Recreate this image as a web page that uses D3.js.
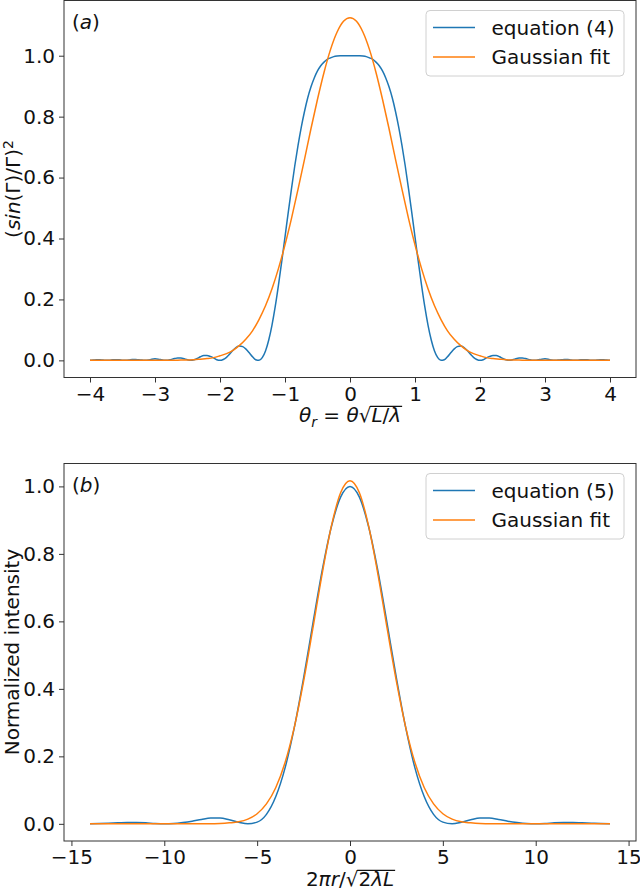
<!DOCTYPE html>
<html><head><meta charset="utf-8">
<script src="https://cdn.jsdelivr.net/npm/d3@7"></script>
<style>body{margin:0;background:#fff}svg{display:block}text{font-family:"DejaVu Sans",sans-serif}</style>
</head><body><svg id="c" width="640" height="894"></svg>
<script>
// ---------- Panel (a) data ----------
const thetaStart = -4, thetaStepEq = 0.05, thetaStepFit = 0.1;
const eq4Values = [
0.000,0.001,0.002,0.002,0.001,0.000,0.000,0.002,0.002,0.002,0.000,0.000,0.001,0.003,0.003,0.002,0.001,0.000,0.001,0.004,
0.005,0.004,0.002,0.000,0.000,0.003,0.006,0.008,0.008,0.005,0.002,0.000,0.002,0.006,0.012,0.016,0.016,0.013,0.008,0.002,
0.000,0.003,0.010,0.021,0.033,0.043,0.047,0.045,0.037,0.025,0.012,0.002,0.000,0.009,0.031,0.067,0.116,0.177,0.248,0.325,
0.405,0.486,0.564,0.638,0.705,0.765,0.817,0.862,0.898,0.927,0.950,0.967,0.979,0.988,0.993,0.997,0.999,1.000,1.000,1.000,
1.000,
1.000,1.000,1.000,0.999,0.997,0.993,0.988,0.979,0.967,0.950,0.927,0.898,0.862,0.817,0.765,0.705,0.638,0.564,0.486,
0.405,0.325,0.248,0.177,0.116,0.067,0.031,0.009,0.000,0.002,0.012,0.025,0.037,0.045,0.047,0.043,0.033,0.021,0.010,0.003,
0.000,0.002,0.008,0.013,0.016,0.016,0.012,0.006,0.002,0.000,0.002,0.005,0.008,0.008,0.006,0.003,0.000,0.000,0.002,0.004,
0.005,0.004,0.001,0.000,0.001,0.002,0.003,0.003,0.001,0.000,0.000,0.002,0.002,0.002,0.000,0.000,0.001,0.002,0.002,0.001,
0.000];
const fitAValues = [
0,0,0,0,0,0,0,0,0,0,0,0,0,0,0.001,0.001,0.002,0.004,0.006,0.009,
0.015,0.022,0.033,0.049,0.070,0.097,0.134,0.179,0.235,0.302,0.379,0.466,0.561,0.660,0.761,0.857,0.945,1.020,1.077,1.113,
1.125,
1.113,1.077,1.020,0.945,0.857,0.761,0.660,0.561,0.466,0.379,0.302,0.235,0.179,0.134,0.097,0.070,0.049,0.033,0.022,0.015,
0.009,0.006,0.004,0.002,0.001,0.001,0,0,0,0,0,0,0,0,0,0,0,0,0,0];
const xTicksA = [-4,-3,-2,-1,0,1,2,3,4];
const yTicks = [0,0.2,0.4,0.6,0.8,1.0];

// ---------- Panel (b) data ----------
const rStart = -14, rStep = 0.5;
const eq5Values = [
0.000,0.001,0.002,0.003,0.004,0.004,0.003,0.001,0.000,0.001,0.004,0.008,0.013,0.017,0.017,0.012,0.005,0.000,0.005,0.028,
0.080,0.165,0.285,0.432,0.593,0.750,0.881,0.969,
1.000,
0.969,0.881,0.750,0.593,0.432,0.285,0.165,0.080,0.028,0.005,0.000,0.005,0.012,0.017,0.017,0.013,0.008,0.004,0.001,0.000,
0.001,0.003,0.004,0.004,0.003,0.002,0.001,0.000];
const fitBValues = [
0,0,0,0,0,0,0,0,0,0,0,0,0,0,0.001,0.003,0.006,0.014,0.030,0.059,0.107,0.181,0.286,0.422,0.579,0.741,0.883,0.982,
1.017,
0.982,0.883,0.741,0.579,0.422,0.286,0.181,0.107,0.059,0.030,0.014,0.006,0.003,0.001,0,0,0,0,0,0,0,0,0,0,0,0,0,0];
const xTicksB = [-15,-10,-5,0,5,10,15];

const BLUE = "#1f77b4", ORANGE = "#ff7f0e";
const svg = d3.select("#c");
svg.append("rect").attr("width",640).attr("height",894).attr("fill","#fff");

function grid(start, step, n){ return d3.range(n).map(i => +(start + i*step).toFixed(4)); }

function panel(o){
  const x = d3.scaleLinear().domain(o.xDomain).range([64,636]);
  const y = d3.scaleLinear().domain(o.yDomain).range([o.bottom,o.top]);
  const g = svg.append("g");
  const line = d3.line().x(d=>x(d[0])).y(d=>y(d[1])).curve(d3.curveMonotoneX);
  o.series.forEach(s=>{
    g.append("path").datum(d3.zip(s.x, s.y)).attr("d", line)
      .attr("fill","none").attr("stroke", s.color).attr("stroke-width",1.5).attr("stroke-linejoin","round");
  });
  const ax = g.append("g").attr("transform",`translate(0,${o.bottom})`)
    .call(d3.axisBottom(x).tickValues(o.xTicks).tickFormat(d3.format("d")).tickSize(5).tickPadding(4));
  const ay = g.append("g").attr("transform","translate(64,0)")
    .call(d3.axisLeft(y).tickValues(yTicks).tickFormat(d3.format(".1f")).tickSize(5).tickPadding(4));
  [ax,ay].forEach(a=>{
    a.select(".domain").remove();
    a.selectAll("text").attr("font-size",20).attr("font-family","DejaVu Sans").attr("fill","#111");
    a.selectAll("line").attr("stroke","#333");
  });
  g.append("rect").attr("x",64).attr("y",o.top).attr("width",572).attr("height",o.bottom-o.top)
    .attr("fill","none").attr("stroke","#333").attr("stroke-width",1);
  // legend
  const lt = o.top + 10;
  g.append("rect").attr("x",426).attr("y",lt).attr("width",198).attr("height",65.5).attr("rx",4)
    .attr("fill","#fff").attr("fill-opacity",0.8).attr("stroke","#d0d0d0");
  o.series.forEach((s,i)=>{
    const ly = lt + 17 + i*29.5;
    g.append("line").attr("x1",433).attr("x2",475).attr("y1",ly).attr("y2",ly).attr("stroke",s.color).attr("stroke-width",1.5);
    g.append("text").attr("x",491.5).attr("y",ly+7).attr("font-size",20).attr("fill","#111").text(s.label);
  });
  // panel label
  const pl = g.append("text").attr("x",72).attr("y",o.top+28).attr("font-size",20).attr("fill","#111");
  pl.append("tspan").text("(");
  pl.append("tspan").attr("font-style","italic").text(o.tag);
  pl.append("tspan").text(")");
  return {g, x, y};
}

function xlabel(g, pieces, cx, base, rad){
  const t = g.append("text").attr("x",cx).attr("y",base).attr("text-anchor","middle").attr("font-size",20).attr("fill","#111");
  pieces.forEach(p=>{
    const ts = t.append("tspan").text(p.t);
    if(p.i) ts.attr("font-style","italic");
    if(p.fs) ts.attr("font-size",p.fs);
    if(p.dy) ts.attr("dy",p.dy);
  });
  const node = t.node();
  const b = node.getExtentOfChar(rad[1]);
  const s = node.getExtentOfChar(rad[0]-1);
  g.append("line").attr("x1", s.x + s.width - 1.2).attr("x2", b.x + b.width + 1)
    .attr("y1", base-15.6).attr("y2", base-15.6).attr("stroke","#111").attr("stroke-width",1.3);
}

// Panel (a)
const A = panel({
  top:0.5, bottom:377.5, xDomain:[-4.4,4.4], yDomain:[-0.05625,1.18125], xTicks:xTicksA, tag:"a",
  series:[
    {x:grid(thetaStart,thetaStepEq,eq4Values.length), y:eq4Values, color:BLUE, label:"equation (4)"},
    {x:grid(thetaStart,thetaStepFit,fitAValues.length), y:fitAValues, color:ORANGE, label:"Gaussian fit"}
  ]
});
xlabel(A.g, [{t:"θ",i:1},{t:"r",i:1,fs:14,dy:5},{t:" = ",dy:-5},{t:"θ",i:1},{t:"√"},{t:"L",i:1},{t:"/"},{t:"λ",i:1}], 350, 422, [7,9]);
{
  const t = A.g.append("text").attr("transform","translate(19.5,189) rotate(-90)").attr("text-anchor","middle").attr("font-size",20).attr("fill","#111");
  t.append("tspan").text("(");
  t.append("tspan").attr("font-style","italic").text("sin");
  t.append("tspan").text("(Γ)/Γ)");
  t.append("tspan").attr("font-size",14).attr("dy",-7).text("2");
}

// Panel (b)
const B = panel({
  top:463.5, bottom:841, xDomain:[-15.4,15.4], yDomain:[-0.05085,1.06785], xTicks:xTicksB, tag:"b",
  series:[
    {x:grid(rStart,rStep,eq5Values.length), y:eq5Values, color:BLUE, label:"equation (5)"},
    {x:grid(rStart,rStep,fitBValues.length), y:fitBValues, color:ORANGE, label:"Gaussian fit"}
  ]
});
xlabel(B.g, [{t:"2"},{t:"π",i:1},{t:"r",i:1},{t:"/"},{t:"√"},{t:"2"},{t:"λ",i:1},{t:"L",i:1}], 350, 886, [5,7]);
B.g.append("text").attr("transform","translate(19,652) rotate(-90)").attr("text-anchor","middle").attr("font-size",20).attr("fill","#111").text("Normalized intensity");
</script></body></html>
